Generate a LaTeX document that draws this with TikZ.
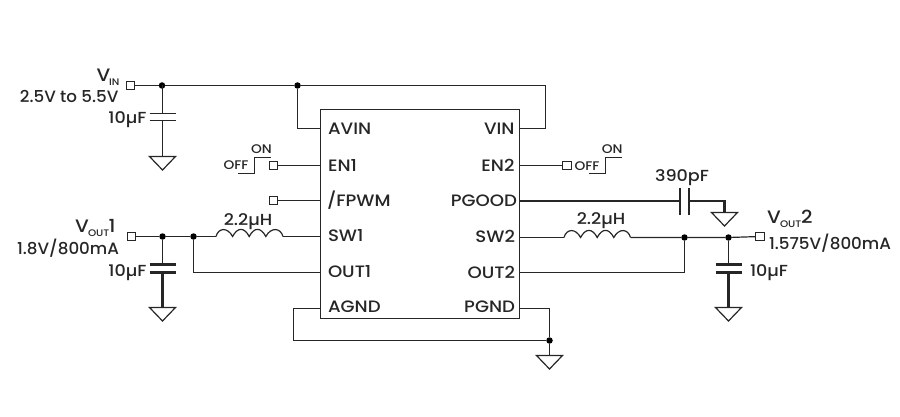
\documentclass[tikz,border=0pt]{standalone}
\usepackage{fontspec}
\setmainfont[FakeStretch=1.1]{Poppins Medium}
\newfontfamily\longfont[FakeStretch=1.02]{Poppins Medium}
\tikzset{
  x=1pt,y=-1pt,
  wire/.style={line width=1.2pt,line cap=butt,line join=miter,draw=black!85},
  thick wire/.style={line width=2.2pt,draw=black!85},
  term/.style={draw=black!85,line width=1pt,fill=white,minimum size=8.5pt,inner sep=0pt,outer sep=0pt,rectangle},
  jn/.style={circle,fill=black,inner sep=0pt,outer sep=0pt,minimum size=6.5pt},
  lab/.style={inner sep=0pt,outer sep=0pt,yshift=-1pt,font=\fontsize{16}{16}\selectfont,text=black!85},
  pin lab/.style={lab,font=\fontsize{16.5}{16.5}\selectfont},
  long lab/.style={lab,font=\longfont\fontsize{16.4}{16.4}\selectfont},
  big lab/.style={inner sep=0pt,outer sep=0pt,font=\fontsize{18}{18}\selectfont,text=black!85},
  small lab/.style={inner sep=0pt,outer sep=0pt,font=\fontsize{12.5}{12.5}\selectfont,text=black!85},
  tiny lab/.style={inner sep=0pt,outer sep=0pt,font=\fontsize{9.5}{9.5}\selectfont,text=black!85},
  chip/.style={draw=black!85,line width=1.2pt,fill=white,inner sep=0pt,outer sep=0pt,rectangle},
  gnd/.pic={\draw[wire,line join=miter] (-13,0) -- (13,0) -- (0,13.5) -- cycle;},
}
\newcommand{\coil}[2]{%
  \draw[wire] (#1) .. controls +(2.5,-9) and +(-5,-9.5) .. +(16.6,0)
    .. controls +(5,-9.5) and +(-5,-9.5) .. +(33.2,0)
    .. controls +(5,-9.5) and +(-5,-9.5) .. +(49.8,0)
    .. controls +(5,-9.5) and +(-2.5,-9) .. (#2);}
\begin{document}
\begin{tikzpicture}
\useasboundingbox (0,0) rectangle (900,417);
% chip
\node[chip,minimum width=199pt,minimum height=209pt,anchor=north west] (ic) at (320.5,109.5) {};
% pin labels
\node[pin lab,anchor=west] at (328,128) {AVIN};
\node[pin lab,anchor=west] at (328,164) {EN1};
\node[pin lab,anchor=west] at (327,199.5) {/FPWM};
\node[pin lab,anchor=west] at (328,235) {SW1};
\node[pin lab,anchor=west] at (328,271) {OUT1};
\node[pin lab,anchor=west] at (328,306) {AGND};
\node[pin lab,anchor=east] at (514.5,128) {VIN};
\node[pin lab,anchor=east] at (514.5,164) {EN2};
\node[pin lab,anchor=east] at (517,199.5) {PGOOD};
\node[pin lab,anchor=east] at (515,235) {SW2};
\node[pin lab,anchor=east] at (515,271) {OUT2};
\node[pin lab,anchor=east] at (515,306) {PGND};
% chip pin anchors
\foreach \n/\y in {avin/128.5,enone/165.5,fpwm/200.5,swone/236.5,outone/272.5,agnd/308.5}
  \coordinate (\n) at (320.5,\y);
\foreach \n/\y in {vin/128.5,entwo/165.5,pgood/201,swtwo/237.5,outtwo/272.5,pgnd/308.5}
  \coordinate (\n) at (519.5,\y);
% terminals
\node[term] (tvin) at (130.5,85.5) {};
\node[term] (ten1) at (273.5,165.5) {};
\node[term] (tfpwm) at (273.5,200.5) {};
\node[term] (tvout1) at (131.5,236.5) {};
\node[term] (ten2) at (567,165.5) {};
\node[term] (tvout2) at (760,236.5) {};
% junctions
\node[jn] (j1) at (162,85.5) {};
\node[jn] (j2) at (297.5,85.5) {};
\node[jn] (j3) at (162.5,236.5) {};
\node[jn] (j4) at (193.5,236.5) {};
\node[jn] (j5) at (684.5,237.5) {};
\node[jn] (j6) at (728.5,237.5) {};
\node[jn] (j7) at (549.5,340.5) {};
% helper points
\coordinate (c1a) at (162.5,113.5);
\coordinate (c1b) at (162.5,120.5);
\coordinate (g1) at (162.5,156.5);
\coordinate (c2a) at (162.5,264.5);
\coordinate (c2b) at (162.5,272.5);
\coordinate (g2) at (162.5,307.5);
\coordinate (c3a) at (728.5,264.5);
\coordinate (c3b) at (728.5,272.5);
\coordinate (g3) at (728.5,307.5);
\coordinate (g4) at (549.5,355.5);
\coordinate (c4a) at (680,201);
\coordinate (c4b) at (689,201);
\coordinate (g5) at (724.5,212.5);
\coordinate (l1a) at (216,236.5);
\coordinate (l1b) at (283,236.5);
\coordinate (l2a) at (564,237.5);
\coordinate (l2b) at (630.5,237.5);
% wires
\draw[wire] (tvin) -- (j1) -- (j2) -- (545.5,85.5) -- (545.5,128.5) -- (vin);
\draw[wire] (j2) |- (avin);
\draw[wire] (j1.center) ++(0.5,0) -- (c1a);
\draw[wire] (c1b) -- (g1);
\draw[wire] ([xshift=-13pt]c1a) -- ([xshift=13pt]c1a);
\draw[wire] ([xshift=-13pt]c1b) -- ([xshift=13pt]c1b);
\pic at (g1) {gnd};
\draw[wire] (ten1) -- (enone);
\draw[wire] (tfpwm) -- (fpwm);
\draw[wire] (tvout1) -- (j3) -- (j4) -- (l1a);
\coil{l1a}{l1b}
\draw[wire] (l1b) -- (swone);
\draw[wire] (j4) |- (outone);
\draw[wire] (j3) -- (c2a);
\draw[thick wire] (c2b) -- (g2);
\draw[thick wire] ([xshift=-13pt]c2a) -- ([xshift=13pt]c2a);
\draw[thick wire] ([xshift=-13pt]c2b) -- ([xshift=13pt]c2b);
\pic at (g2) {gnd};
\draw[wire] (agnd) -- (293.5,308.5) |- (j7);
\draw[wire] (pgnd) -| (j7);
\draw[wire] (j7) -- (g4);
\pic at (g4) {gnd};
\draw[wire] (entwo) -- (ten2);
\draw[thick wire] (pgood) -- (c4a);
\draw[thick wire] (c4a |- 0,187.7) -- (c4a |- 0,215);
\draw[thick wire] (c4b |- 0,187.7) -- (c4b |- 0,215);
\draw[thick wire] (c4b) -| (g5);
\pic at (g5) {gnd};
\draw[wire] (swtwo) -- (l2a);
\coil{l2a}{l2b}
\draw[wire] (l2b) -- (j5) -- (j6) -- (tvout2);
\draw[wire] (j5) |- (outtwo);
\draw[wire] (j6) -- (c3a);
\draw[thick wire] (c3b) -- (g3);
\draw[thick wire] ([xshift=-13pt]c3a) -- ([xshift=13pt]c3a);
\draw[thick wire] ([xshift=-13pt]c3b) -- ([xshift=13pt]c3b);
\pic at (g3) {gnd};
% switches
\coordinate (s1a) at (238,173.5);
\coordinate (s1b) at (254.5,157.5);
\coordinate (s1c) at (270.7,157.5);
\draw[wire,line width=1.1pt] (s1a) -| (s1b) -- (s1c);
\coordinate (s2a) at (589,173.5);
\coordinate (s2b) at (605.5,157.5);
\coordinate (s2c) at (621.7,157.5);
\draw[wire,line width=1.1pt] (s2a) -| (s2b) -- (s2c);
\node[small lab] at (236,165.5) {OFF};
\node[small lab] at (261.5,149.5) {ON};
\node[small lab] at (587,166.5) {OFF};
\node[small lab] at (612.3,149.5) {ON};
% value labels
\node[lab,anchor=east] at (146.5,118.5) {10µF};
\node[lab,anchor=east] at (146.5,272) {10µF};
\node[lab,anchor=west] at (750,272) {10µF};
\node[lab] at (248,221) {2.2µH};
\node[lab] at (601,220) {2.2µH};
\node[lab] at (682,177) {390pF};
\node[long lab,anchor=east] at (118.5,95) {2.5V to 5.5V};
\node[long lab,anchor=east] at (119,247) {1.8V/800mA};
\node[long lab,anchor=west] at (769,242) {1.575V/800mA};
\node[big lab,anchor=west] at (96.5,75) {V};
\node[tiny lab,anchor=west] at (109,82.5) {IN};
\node[big lab,anchor=west] at (75,226) {V};
\node[tiny lab,anchor=west] at (88,233) {OUT};
\node[big lab,anchor=west] at (108.5,226) {1};
\node[big lab,anchor=west] at (767,217) {V};
\node[tiny lab,anchor=west] at (780,224) {OUT};
\node[big lab,anchor=west] at (801,217) {2};
\end{tikzpicture}
\end{document}
